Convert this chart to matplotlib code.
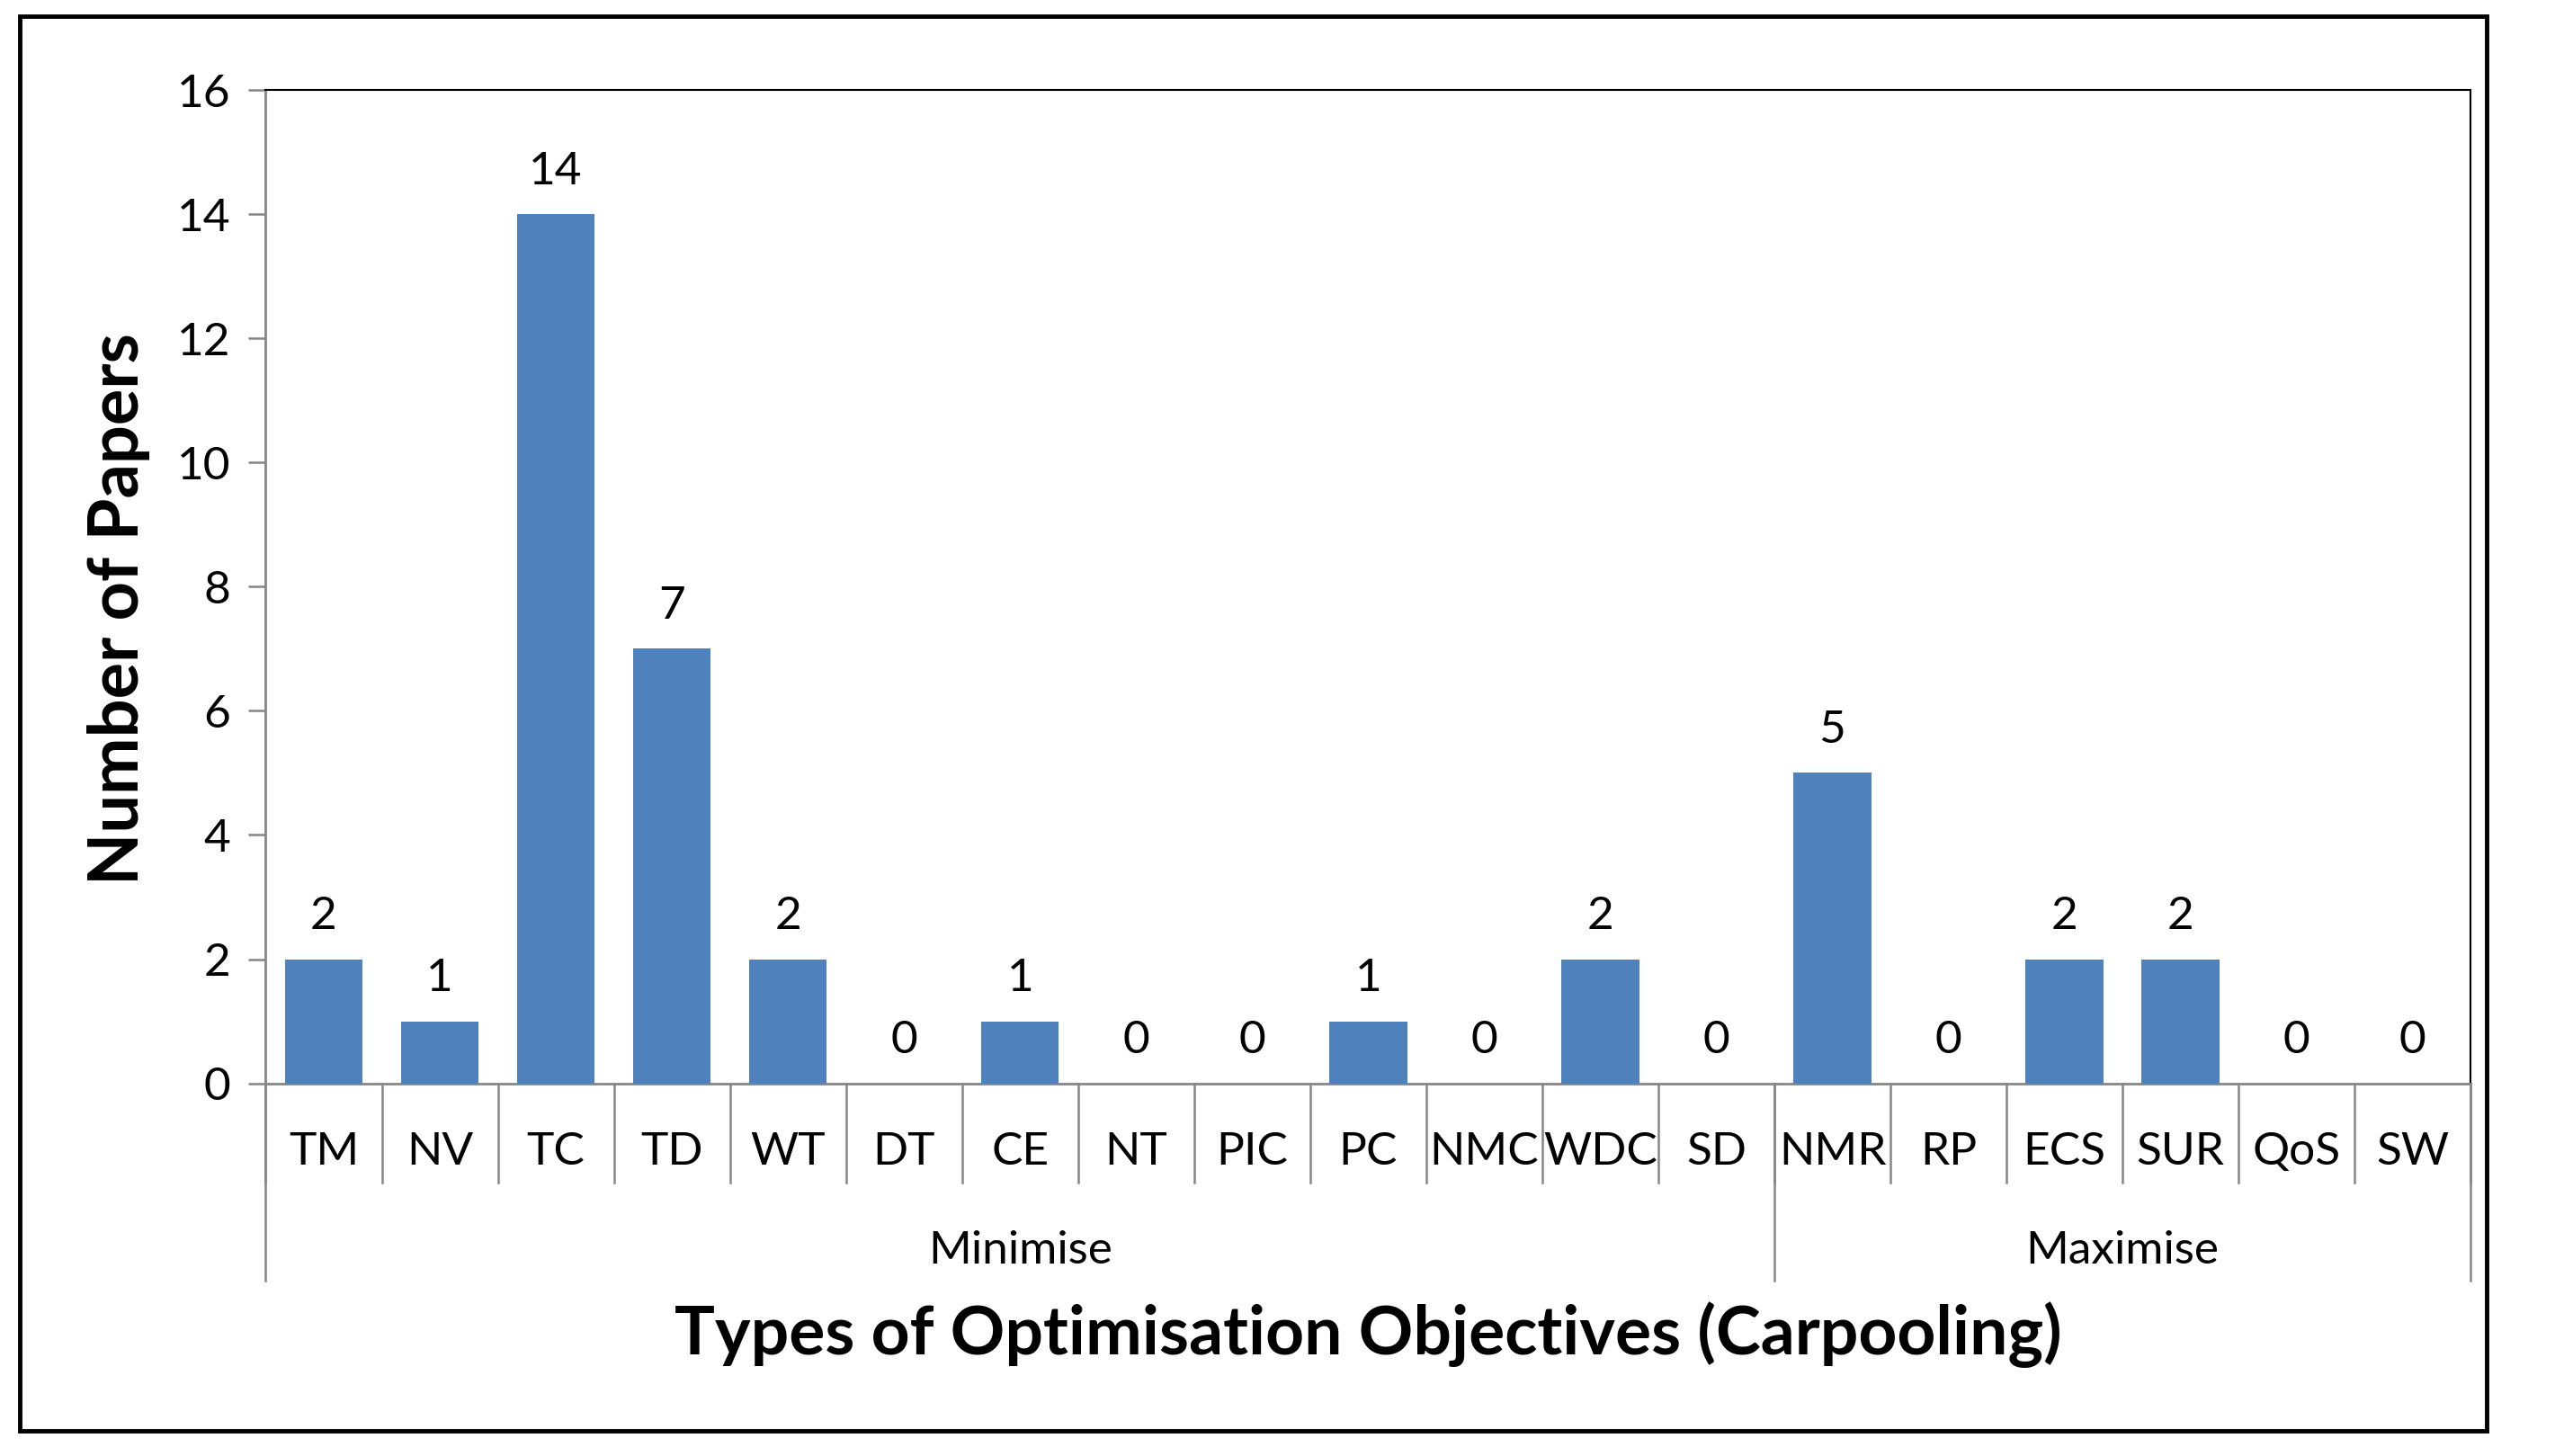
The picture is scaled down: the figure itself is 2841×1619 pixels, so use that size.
import matplotlib
matplotlib.use('Agg')
from matplotlib import pyplot as plt
from matplotlib.patches import Rectangle

categories = ['TM', 'NV', 'TC', 'TD', 'WT', 'DT', 'CE', 'NT', 'PIC', 'PC', 'NMC', 'WDC', 'SD',
              'NMR', 'RP', 'ECS', 'SUR', 'QoS', 'SW']
papers = [2, 1, 14, 7, 2, 0, 1, 0, 0, 1, 0, 2, 0, 5, 0, 2, 2, 0, 0]
groups = ['Minimise', 'Maximise']
group_sizes = [13, 6]
y_ticks = [0, 2, 4, 6, 8, 10, 12, 14, 16]

plt.rcParams['font.family'] = ['Lato', 'DejaVu Sans']

fig = plt.figure(dpi=100, figsize=(28.41, 16.19))
ax = fig.add_axes([0.104, 0.256, 0.863, 0.682])

x = list(range(len(categories)))
bars = ax.bar(x, papers, width=0.67, color='#4F81BD', zorder=3)

for xi, v in zip(x, papers):
    ax.annotate(str(v), (xi, v), xytext=(0, 34), textcoords='offset points',
                ha='center', va='center', fontsize=37)

ax.set_xlim(-0.5, len(categories) - 0.5)
ax.set_ylim(0, 16)
ax.set_yticks(y_ticks)
ax.tick_params(axis='y', direction='out', length=14, width=1.8, color='#868686',
               labelsize=37, pad=14)
ax.set_xticks([])

for side in ['left', 'bottom']:
    ax.spines[side].set_color('#868686')
    ax.spines[side].set_linewidth(2)
for side in ['top', 'right']:
    ax.spines[side].set_color('black')
    ax.spines[side].set_linewidth(1.5)

trans = ax.get_xaxis_transform()
# category labels and separators below the axis
for xi, name in zip(x, categories):
    ax.text(xi, -0.069, name, transform=trans, ha='center', va='center', fontsize=37)
for i in range(len(categories) + 1):
    ax.plot([i - 0.5, i - 0.5], [0, -0.10], transform=trans, color='#868686',
            lw=1.8, clip_on=False)

# group labels and group separators
start = 0
ax.plot([-0.5, -0.5], [0, -0.199], transform=trans, color='#868686', lw=1.8, clip_on=False)
for g, n in zip(groups, group_sizes):
    end = start + n
    ax.text((start + end - 1) / 2, -0.169, g, transform=trans, ha='center', va='center',
            fontsize=37)
    ax.plot([end - 0.5, end - 0.5], [0, -0.199], transform=trans, color='#868686',
            lw=1.8, clip_on=False)
    start = end

ax.text(0.5, -0.253, 'Types of Optimisation Objectives (Carpooling)', transform=ax.transAxes,
        ha='center', va='center', fontsize=54, fontweight='bold')
ax.set_ylabel('Number of Papers', fontsize=54.5, fontweight='bold')
ax.yaxis.set_label_coords(-0.0524, 0.478)

fig.patches.append(Rectangle((0.0077, 0.017), 0.9655, 0.972, transform=fig.transFigure,
                             fill=False, edgecolor='black', linewidth=3.5))

plt.savefig('out.png')
